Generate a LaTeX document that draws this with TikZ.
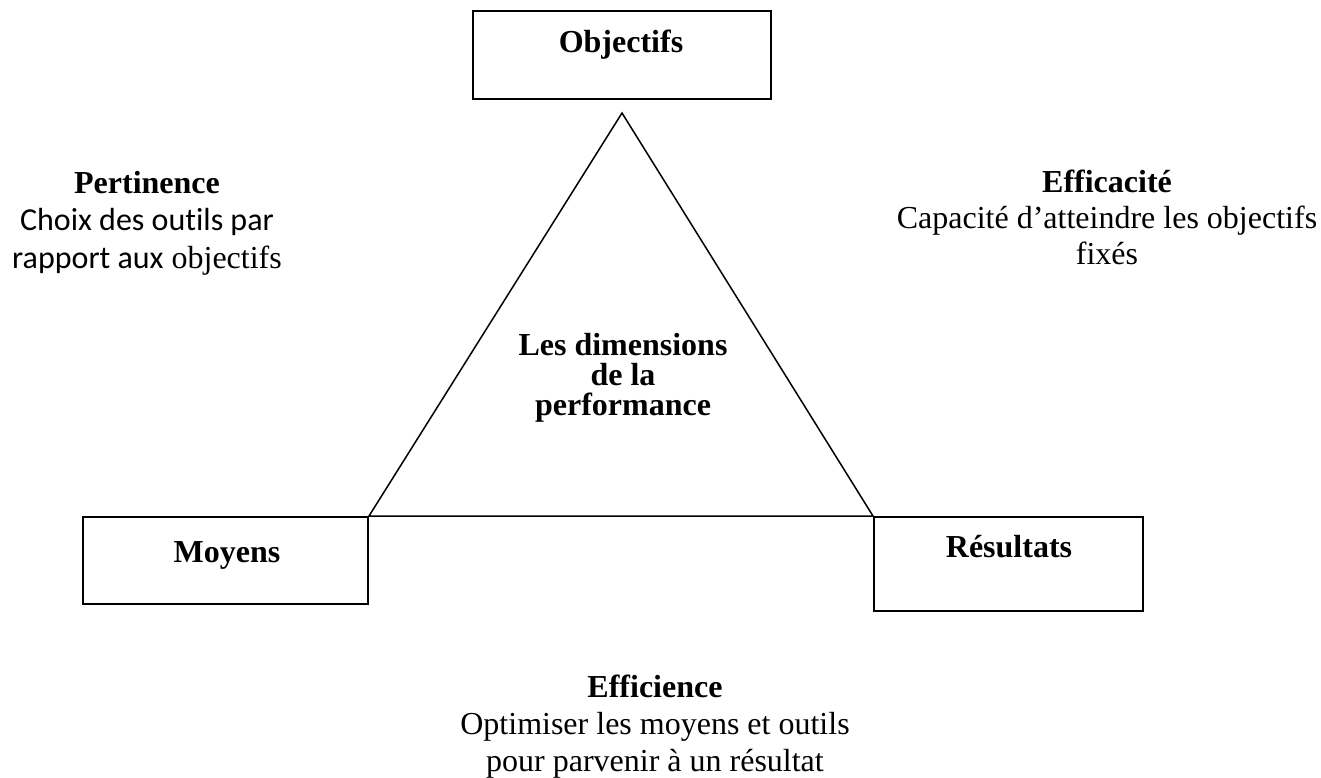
\documentclass[tikz,border=0pt]{standalone}
\usepackage{fontspec}
\setmainfont{Liberation Serif}
\newfontfamily\calibfont[Ligatures=NoCommon]{Carlito}
\begin{document}
\begin{tikzpicture}[x=1pt,y=-1pt,
  box/.style={draw, line width=2pt, inner sep=0pt},
  lbl/.style={font=\fontsize{32}{37}\selectfont\bfseries, anchor=base, inner sep=0pt},
  txt/.style={font=\fontsize{32}{37.5}\selectfont, align=center, anchor=base, inner sep=0pt},
  tri/.style={line width=1.5pt, line join=miter}]
\useasboundingbox (0,0) rectangle (1321,778);
% boxes
\node[box, minimum width=298pt, minimum height=88pt] (obj) at (622,55) {};
\node[box, minimum width=285pt, minimum height=87pt] (moy) at (225.5,560.5) {};
\node[box, minimum width=269pt, minimum height=94pt] (res) at (1008.5,564) {};
\node[lbl] (objt) at (621,53) {Objectifs};
\node[lbl] (moyt) at (227,562) {Moyens};
\node[lbl] (rest) at (1009,557) {Résultats};
% triangle
\coordinate (apex) at (622,113);
\draw[tri] (apex) -- (moy.north east) -- (res.north west) -- cycle;
% centre (anchor base = last line)
\node[txt, font=\fontsize{32}{30}\selectfont\bfseries] (centre) at (623,415) {Les dimensions\\de la\\performance};
% side texts
\node[txt] (pert) at (147,268) {\textbf{Pertinence}\\{\calibfont Choix des outils par}\\{\calibfont rapport aux} objectifs};
\node[txt, font=\fontsize{32}{36}\selectfont] (effic) at (1107,264) {\textbf{Efficacité}\\Capacité d’atteindre les objectifs\\fixés};
\node[txt, font=\fontsize{32}{37}\selectfont] (effi) at (655,771) {\textbf{Efficience}\\Optimiser les moyens et outils\\pour parvenir à un résultat};
\end{tikzpicture}
\end{document}
